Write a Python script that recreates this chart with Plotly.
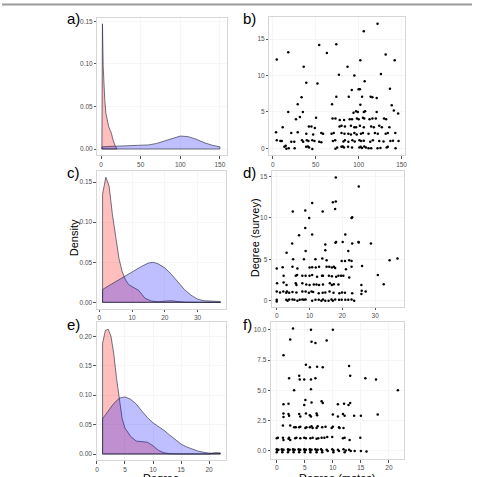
import plotly.graph_objects as go

# ---------------- data ----------------
# panel a densities
a_red_x = [1, 1.7, 2.6, 3.5, 4.6, 6, 8, 9.6, 11.5, 13, 15, 18, 20]
a_red_d = [0.12, 0.147, 0.097, 0.075, 0.058, 0.042, 0.031, 0.026, 0.022, 0.0185, 0.0106, 0.003, 0.0005]
a_blue_x = [1, 10, 20, 30, 40, 50, 60, 70, 80, 90, 100, 110, 120, 130, 140, 150]
a_blue_d = [0.0025, 0.003, 0.0035, 0.0038, 0.004, 0.0042, 0.0048, 0.0065, 0.0095, 0.0130,
            0.0152, 0.0145, 0.0115, 0.0075, 0.0045, 0.0025]
# panel c densities
c_red_x = [1, 2, 3, 4, 5, 6, 7, 8, 9, 10, 11, 12, 13, 14, 16, 18, 20, 22, 24, 26, 30, 37]
c_red_d = [0.135, 0.156, 0.145, 0.11, 0.08, 0.055, 0.038, 0.028, 0.022, 0.02, 0.018, 0.015,
           0.01, 0.005, 0.0015, 0.0008, 0.0015, 0.002, 0.001, 0.0003, 0.0, 0.0]
c_blue_x = [1, 3, 5, 7, 9, 11, 13, 15, 16.5, 18, 20, 22, 24, 26, 28, 30, 32, 34, 37]
c_blue_d = [0.016, 0.021, 0.026, 0.031, 0.036, 0.040, 0.045, 0.049, 0.050, 0.048, 0.043,
            0.035, 0.026, 0.016, 0.009, 0.004, 0.002, 0.0015, 0.001]
# panel e densities
e_red_x = [1, 1.5, 2, 2.5, 3, 3.5, 4, 4.5, 5, 6, 7, 8, 9, 10, 11, 12, 13, 15, 20, 21, 22]
e_red_d = [0.188, 0.210, 0.212, 0.200, 0.170, 0.128, 0.094, 0.060, 0.044, 0.030, 0.022, 0.021,
           0.020, 0.014, 0.006, 0.002, 0.0005, 0, 0, 0.002, 0.002]
e_blue_x = [1, 2, 3, 4, 5, 6, 7, 8, 9, 10, 11, 12, 13, 14, 15, 16, 17, 18, 19, 20, 22]
e_blue_d = [0.060, 0.073, 0.086, 0.095, 0.097, 0.093, 0.085, 0.073, 0.062, 0.053, 0.047, 0.040,
            0.032, 0.024, 0.017, 0.012, 0.008, 0.005, 0.003, 0.0015, 0.001]

# panel b scatter
b_x = [122, 106, 74, 54, 63, 18, 131.5, 4.6, 102, 142, 87, 36, 126, 77, 95, 52, 39, 107, 136.5, 92,
       100, 101.5, 88.5, 74, 33.5, 104, 114, 116, 121, 69, 29, 102, 138.5, 18, 35, 94, 97, 99, 106,
       107.5, 121, 141, 146, 50.4, 31.5, 27, 69.6, 73, 78, 83, 89.6, 92.3, 98, 100, 105, 106.5, 112.7,
       116, 120, 129.6, 132,
       11.5, 42, 45, 49, 77.7, 80, 84, 91, 95, 97, 101.5, 106, 114.6, 117.7, 124, 127, 135.8,
       3.8, 21.5, 29, 39, 47, 56.5, 58.5, 68.5, 71, 80, 83.5, 88, 91, 95, 97.7, 102.7, 105, 111.5,
       119, 122.3, 131.5, 134, 142.7,
       4.6, 8.8, 10.4, 21.5, 25, 34, 35.4, 39.6, 41.5, 46, 48.5, 54, 56.5, 70, 72.7, 82.3, 84, 88,
       92.7, 95.4, 101, 103, 106, 113.5, 116.5, 124, 129, 137, 140, 146.5,
       13.5, 15, 15.8, 18.5, 25.4, 38.8, 41, 42.3, 46, 73, 75, 80, 81.5, 83, 87.7, 92.3, 100.8,
       102.3, 103.8, 106.5, 108.5, 111.5, 114.6, 122, 125.4, 132.7, 134, 143]
b_y = [17.1, 16.1, 14.3, 14.2, 13.1, 13.2, 12.9, 12.2, 12.1, 12.1, 11.2, 11.2, 10.2, 10.1, 10.0,
       8.9, 9.0, 9.2, 8.2, 8.0, 8.1, 8.1, 7.1, 7.1, 7.0, 7.1, 7.1, 7.0, 6.9, 6.05, 6.05, 6.0, 5.9,
       5.0, 5.0, 4.9, 5.1, 5.0, 5.0, 5.1, 5.0, 5.2, 4.8, 4.2, 4.3, 4.0, 4.1, 4.1, 3.9, 3.9, 4.0,
       4.0, 4.1, 4.0, 4.2, 4.1, 4.0, 4.1, 4.1, 4.1, 4.0,
       2.9, 3.0, 3.0, 2.8, 3.0, 3.1, 3.0, 3.1, 2.9, 2.9, 3.1, 2.9, 3.0, 2.9, 3.1, 2.9, 2.9,
       2.2, 2.1, 2.2, 2.0, 1.9, 2.1, 2.0, 2.0, 2.1, 2.1, 2.0, 2.0, 1.9, 2.1, 1.9, 2.0, 2.1, 2.0,
       2.1, 2.0, 2.0, 2.1, 2.1,
       1.1, 1.0, 1.0, 0.9, 0.9, 1.1, 0.9, 1.1, 1.0, 1.1, 1.0, 0.9, 0.85, 1.0, 1.1, 0.95, 1.1, 0.9,
       1.1, 0.95, 1.1, 1.0, 1.05, 0.9, 1.1, 1.0, 0.95, 1.0, 1.05, 1.0,
       0.2, 0.35, -0.05, 0.0, 0.0, 0.2, 0.25, 0.1, -0.1, -0.05, 0.1, 0.2, 0.25, 0.1, 0.2, 0.1, 0.1,
       0.2, 0.05, 0.25, 0.1, 0.0, 0.0, 0.0, 0.05, 0.1, 0.2, 0.0]

# panel d scatter
d_x = [18, 25, 10.8, 17.1, 18, 4.9, 8.7, 14, 17.8, 9.9, 22.8, 23, 8.7, 10.8, 6.8, 20.9, 17.9, 18.1,
       20.1, 23, 24.9, 25, 28.7, 4.7, 14.8, 3.0, 8.8, 14.8, 21.8,
       5, 8.3, 11.8, 13.9, 15.2, 19.8, 20.8, 22.1, 22.8, 34.4, 36.8,
       0, 1.8, 4.8, 6.3, 10, 10.8, 11.9, 12.9, 15.2, 16, 16.8, 17.4, 17.8, 21.1, 22.8, 26,
       2.1, 5.8, 6.2, 7.8, 8.8, 10, 10.8, 12.3, 13.8, 14.1, 15.9, 16.8, 18.1, 18.8, 19.6, 20.3, 22.1, 30.8,
       0.1, 2.1, 3, 5.8, 6, 7.8, 9, 10, 11.3, 12.1, 12.9, 14.1, 16.2, 16.8, 17.4, 18.8, 25.8, 32.6,
       0, 1, 2, 2.9, 3.1, 3.8, 4.8, 6, 7.8, 8.8, 9.8, 10.6, 11.1, 12.8, 14, 14.8, 16.1, 17.3, 19.1,
       19.9, 20.8, 23, 25.8, 25.9, 27.1,
       0, 0, 2.9, 3.3, 3.8, 4.8, 5.4, 6.3, 7, 7.8, 8.3, 8.8, 10.8, 11.8, 12.8, 13.6, 14.1, 14.8, 15.8,
       16.7, 17.1, 17.8, 19, 19.8, 20.9, 21.8, 22.8, 23.6]
d_y = [14.9, 13.8, 11.8, 11.9, 12.0, 10.8, 10.9, 10.8, 11.1, 10.0, 10.0, 10.1, 8.8, 8.0, 7.9, 8.0,
       7.0, 7.1, 7.1, 6.9, 7.1, 7.05, 6.9, 6.9, 6.8, 5.8, 6.0, 6.1, 6.0,
       5.0, 5.0, 5.0, 5.1, 4.9, 4.8, 4.8, 4.9, 4.8, 4.9, 5.1,
       3.9, 4.05, 4.1, 3.9, 4.0, 4.05, 4.0, 4.1, 4.1, 4.1, 4.0, 4.1, 3.95, 3.8, 4.1, 4.2,
       3.0, 3.0, 3.1, 3.0, 3.0, 3.0, 3.1, 2.9, 3.0, 3.0, 3.0, 2.95, 2.9, 3.0, 3.0, 3.0, 2.8, 3.1,
       2.1, 2.2, 1.9, 2.1, 1.9, 2.1, 1.95, 1.9, 1.95, 1.95, 1.9, 1.95, 2.1, 1.9, 2.0, 1.95, 1.9, 2.0,
       1.1, 1.0, 1.1, 0.95, 1.1, 0.95, 1.05, 1.0, 1.1, 1.1, 0.95, 1.1, 1.05, 0.9, 0.95, 1.0, 1.1,
       0.95, 0.9, 1.0, 0.95, 0.9, 0.8, 1.2, 1.1,
       0.1, -0.1, 0.1, 0.0, 0.15, 0.15, 0.1, 0.0, 0.1, 0.15, 0.1, 0.15, 0.0, 0.1, 0.1, 0.0, 0.15,
       0.0, 0.0, 0.15, 0.0, 0.15, 0.1, 0.1, 0.1, 0.1, 0.15, 0.0]

# panel f scatter
f_x = [2.9, 6.1, 10, 2.4, 6.2, 6.9, 8.9, 1.2, 5.2, 5.9, 7.2, 8.2, 12.9,
       2.2, 4, 4.1, 4.9, 6.1, 6.9, 13.1, 15.8, 17.7, 3.1, 6.1, 21.6,
       1.2, 2.1, 5.1, 4.9, 6.2, 8, 8.2, 10.9, 12, 12.8, 13.1,
       1.2, 1.2, 2.1, 2.2, 4, 4.2, 5.2, 5.9, 6.1, 7.1, 7.2, 10, 10.9, 11.8, 12.1, 13.8, 15, 18,
       1.1, 2.4, 3.1, 3.4, 4, 4.2, 5.1, 5.3, 5.9, 6.2, 6.4, 7.1, 7.3, 8.1, 8.7, 9.8, 10, 11.1, 11.2, 11.9,
       0, 0.2, 1.1, 1.2, 2.1, 2.2, 2.4, 3.3, 3.5, 4.2, 4.9, 5.2, 6, 6.4, 7.1, 7.4, 8, 8.5, 9, 9.9,
       11.8, 12.1, 13, 14.9,
       0, 0, 0.1, 0.3, 0.9, 1.0, 1.0, 1.2, 2.0, 2.0, 2.1, 2.3, 2.9, 3.0, 3.0, 3.2, 3.9, 4.0, 4.0,
       4.2, 4.9, 5.0, 5.0, 5.2, 5.9, 6.0, 6.0, 6.2, 6.9, 7.1, 7.1, 7.3, 7.9, 8.1, 8.1, 8.9, 9.1,
       9.9, 10.1, 10.1, 10.9, 11.1, 11.9, 12.1, 12.3, 12.9, 13.2, 13.9, 15.0, 16.0]
f_y = [10.1, 10.0, 10.0, 9.2, 9.0, 8.9, 9.1, 7.9, 7.1, 6.9, 6.95, 6.9, 7.0,
       6.0, 6.2, 5.9, 5.9, 5.9, 6.0, 6.2, 6.0, 5.9, 5.0, 5.1, 5.0,
       3.85, 3.9, 4.2, 3.8, 4.0, 4.1, 3.95, 3.85, 3.9, 3.8, 3.95,
       3.1, 2.8, 3.05, 2.9, 3.05, 2.85, 3.1, 2.95, 2.85, 3.1, 2.95, 3.0, 2.85, 3.05, 2.9, 2.9, 2.9, 3.0,
       2.1, 2.1, 1.95, 1.95, 1.95, 2.0, 1.9, 1.95, 1.95, 2.05, 1.9, 1.9, 2.05, 1.95, 2.0, 1.9, 2.0,
       1.95, 1.9, 1.9,
       1.05, 1.1, 1.1, 0.9, 1.0, 1.1, 0.9, 1.05, 1.1, 1.05, 1.1, 1.05, 1.05, 1.1, 1.0, 1.05, 1.1,
       1.1, 1.15, 1.15, 1.05, 1.1, 0.9, 1.1,
       0.15, -0.1, 0.05, 0.1, 0.15, -0.1, 0.05, 0.1, 0.15, -0.1, 0.05, 0.1, 0.15, -0.1, 0.05, 0.1,
       0.15, -0.1, 0.05, 0.1, 0.15, -0.1, 0.05, 0.1, 0.15, -0.1, 0.05, 0.1, 0.15, -0.1, 0.05, 0.1,
       0.15, -0.1, 0.05, 0.1, 0.0, 0.15, -0.1, 0.05, 0.1, 0.0, 0.15, -0.1, 0.05, 0.1, 0.0, 0.0,
       0.0, -0.05]

# ---------------- figure ----------------
W = H = 477
FONT = "Liberation Sans, Arial, sans-serif"


def fx(p):
    return p / W


def fy(p):
    return 1 - p / H


RED_FILL = "rgba(255,0,0,0.25)"
BLUE_FILL = "rgba(0,0,255,0.25)"
EDGE = "rgba(40,40,60,0.8)"

fig = go.Figure()


def dens(xs, ds, fill, axn):
    xx = [xs[0]] + list(xs) + [xs[-1], xs[0]]
    yy = [0] + list(ds) + [0, 0]
    fig.add_trace(go.Scatter(x=xx, y=yy, mode="lines", fill="toself", fillcolor=fill,
                             line=dict(color=EDGE, width=0.8), hoverinfo="skip",
                             xaxis="x" + axn, yaxis="y" + axn, showlegend=False))


def pts(xs, ys, axn):
    fig.add_trace(go.Scatter(x=xs, y=ys, mode="markers",
                             marker=dict(color="black", size=2.5, line=dict(width=0)),
                             xaxis="x" + axn, yaxis="y" + axn, showlegend=False))


dens(a_red_x, a_red_d, RED_FILL, "")
dens(a_blue_x, a_blue_d, BLUE_FILL, "")
pts(b_x, b_y, "2")
dens(c_red_x, c_red_d, RED_FILL, "3")
dens(c_blue_x, c_blue_d, BLUE_FILL, "3")
pts(d_x, d_y, "4")
dens(e_red_x, e_red_d, RED_FILL, "5")
dens(e_blue_x, e_blue_d, BLUE_FILL, "5")
pts(f_x, f_y, "6")


def axis(dom_px, rng, tickvals, fmt, anchor, horizontal):
    if horizontal:
        dom = [fx(dom_px[0]), fx(dom_px[1])]
    else:
        dom = [fy(dom_px[1]), fy(dom_px[0])]
    return dict(domain=dom, range=rng, tickvals=tickvals, tickformat=fmt, anchor=anchor,
                showline=True, linecolor="#d6d6d6", linewidth=1, mirror=True,
                ticks="outside", ticklen=2.5, tickwidth=0.8, tickcolor="#555555",
                tickfont=dict(size=6.5, color="#4d4d4d", family=FONT),
                showgrid=True, gridcolor="#f6f6f6", gridwidth=0.6, zeroline=False)


panels = {
    "": dict(xd=(96.5, 227), yd=(17.5, 155.3), xr=[-4.6, 158.5], yr=[-0.0074, 0.1544],
             xt=[0, 50, 100, 150], yt=[0, 0.05, 0.10, 0.15], yf=".2f"),
    "2": dict(xd=(270.3, 407), yd=(17.3, 155.3), xr=[-3.9, 153.7], yr=[-0.96, 18.0],
              xt=[0, 50, 100, 150], yt=[0, 5, 10, 15], yf="d"),
    "3": dict(xd=(96, 226.7), yd=(171, 308.6), xr=[-0.7, 38.8], yr=[-0.0078, 0.1638],
              xt=[0, 10, 20, 30], yt=[0, 0.05, 0.10, 0.15], yf=".2f"),
    "4": dict(xd=(273, 406.3), yd=(170.7, 306.7), xr=[-1.4, 38.8], yr=[-0.73, 15.72],
              xt=[0, 10, 20, 30], yt=[0, 5, 10, 15], yf="d"),
    "5": dict(xd=(95.7, 226.5), yd=(322, 460.3), xr=[-0.05, 23.05], yr=[-0.0107, 0.2243],
              xt=[0, 5, 10, 15, 20], yt=[0, 0.05, 0.10, 0.15, 0.20], yf=".2f"),
    "6": dict(xd=(272, 406.3), yd=(322.3, 459), xr=[-1.0, 22.7], yr=[-0.66, 10.61],
              xt=[0, 5, 10, 15, 20], yt=[0, 2.5, 5, 7.5, 10], yf=".1f"),
}

layout_axes = {}
for k, p in panels.items():
    layout_axes["xaxis" + k] = axis(p["xd"], p["xr"], p["xt"], "d", "y" + k, True)
    layout_axes["yaxis" + k] = axis(p["yd"], p["yr"], p["yt"], p["yf"], "x" + k, False)

annotations = []


def label(text, x, y, size, angle=0, xanchor="left", yanchor="top"):
    annotations.append(dict(text=text, x=fx(x), y=fy(y), xref="paper", yref="paper",
                            showarrow=False, xanchor=xanchor, yanchor=yanchor, textangle=angle,
                            borderpad=0,
                            font=dict(size=size, color="black", family=FONT)))


label("a)", 80, 9, 15, xanchor="right")
label("b)", 243, 9, 15)
label("c)", 80, 163, 15, xanchor="right")
label("d)", 243, 163, 15)
label("e)", 80, 315, 15, xanchor="right")
label("f)", 243, 315, 15)
label("Density", 73, 238, 11, angle=-90, xanchor="center", yanchor="middle")
label("Degree (survey)", 256, 238, 11, angle=-90, xanchor="center", yanchor="middle")
label("Degree", 161, 470.5, 11, xanchor="center")
label("Degree (motes)", 339, 470.5, 11, xanchor="center")

fig.update_layout(
    width=W, height=H, margin=dict(l=0, r=0, t=0, b=0),
    paper_bgcolor="white", plot_bgcolor="white",
    annotations=annotations,
    shapes=[dict(type="line", xref="paper", yref="paper", x0=0, x1=fx(475), y0=fy(4.5), y1=fy(4.5),
                 line=dict(color="#9a9a9a", width=2))],
    **layout_axes,
)

fig.write_html("out.html")
